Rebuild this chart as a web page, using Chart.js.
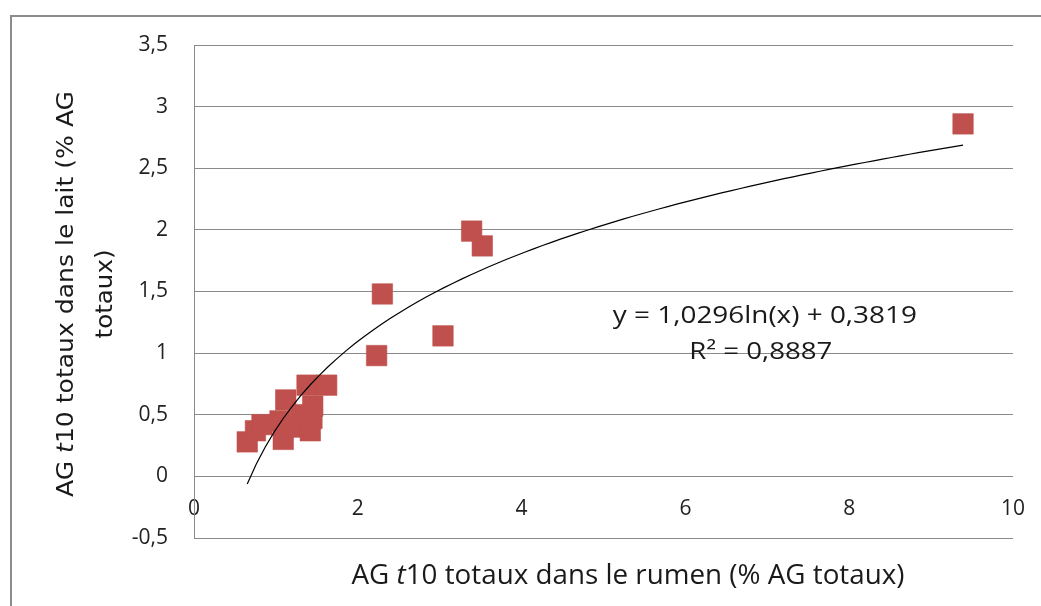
<!DOCTYPE html>
<html>
<head>
<meta charset="utf-8">
<script src="https://cdn.jsdelivr.net/npm/chart.js@4"></script>
<style>
  body { margin: 0; background: #fff; }
  #wrap { width: 1041px; height: 606px; position: relative; }
</style>
</head>
<body>
<div id="wrap"><canvas id="myChart"></canvas></div>
<script>
// data
const rumenX = [0.65, 0.75, 0.83, 1.05, 1.09, 1.12, 1.22, 1.30, 1.42, 1.44, 1.45, 1.38, 1.62, 2.23, 2.30, 3.04, 3.39, 3.52, 9.39];
const laitY  = [0.28, 0.37, 0.42, 0.45, 0.30, 0.62, 0.40, 0.50, 0.37, 0.47, 0.57, 0.74, 0.74, 0.98, 1.48, 1.14, 1.99, 1.87, 2.86];

// log trendline as printed on the chart
const trendA = 1.0296;
const trendB = 0.3819;
const trendR2 = '0,8887';

const yTicks = [-0.5, 0, 0.5, 1, 1.5, 2, 2.5, 3, 3.5];
const xTicks = [0, 2, 4, 6, 8, 10];

const fr = v => String(v).replace('.', ',');

// trendline points across the data range
const xMin = Math.min(...rumenX), xMax = Math.max(...rumenX);
const trend = [];
for (let i = 0; i <= 80; i++) {
  const x = xMin + (xMax - xMin) * i / 80;
  trend.push({ x: x, y: trendA * Math.log(x) + trendB });
}

const points = rumenX.map((x, i) => ({ x: x, y: laitY[i] }));

// draw a line of text (parts can be italic) stretched to a given width
function drawRich(ctx, parts, size, family, cx, cy, targetW, angle) {
  ctx.save();
  ctx.translate(cx, cy);
  ctx.rotate(angle || 0);
  const widths = parts.map(p => {
    ctx.font = (p.i ? 'italic ' : '') + size + 'px ' + family;
    return ctx.measureText(p.t).width;
  });
  const total = widths.reduce((a, b) => a + b, 0);
  ctx.scale(targetW / total, 1);
  ctx.textBaseline = 'middle';
  ctx.textAlign = 'left';
  let x = -total / 2;
  parts.forEach((p, k) => {
    ctx.font = (p.i ? 'italic ' : '') + size + 'px ' + family;
    ctx.fillText(p.t, x, 0);
    x += widths[k];
  });
  ctx.restore();
}

const decor = {
  id: 'decor',
  beforeDraw(chart) {
    const ctx = chart.ctx;
    ctx.save();
    ctx.strokeStyle = '#8c8c8c';
    ctx.lineWidth = 2;
    ctx.beginPath();
    ctx.moveTo(11, 606);
    ctx.lineTo(11, 16);
    ctx.lineTo(1041, 16);
    ctx.stroke();
    ctx.restore();
  },
  afterDraw(chart) {
    const ctx = chart.ctx;
    const sx = chart.scales.x, sy = chart.scales.y;
    ctx.save();
    ctx.fillStyle = '#1a1a1a';
    // axis titles
    drawRich(ctx, [{t: 'AG '}, {t: 't', i: true}, {t: '10 totaux dans le rumen (% AG totaux)'}],
      27, 'Open Sans', 628, 576, 553, 0);
    drawRich(ctx, [{t: 'AG '}, {t: 't', i: true}, {t: '10 totaux dans le lait (% AG'}],
      23, 'DejaVu Sans', 67, 294, 406, -Math.PI / 2);
    drawRich(ctx, [{t: 'totaux)'}],
      23, 'DejaVu Sans', 106, 294, 89, -Math.PI / 2);
    // trendline equation
    const ex = sx.getPixelForValue(6.97);
    drawRich(ctx, [{t: 'y = ' + fr(trendA) + 'ln(x) + ' + fr(trendB)}],
      24, 'Open Sans', ex, sy.getPixelForValue(1.30), 304, 0);
    drawRich(ctx, [{t: 'R² = ' + trendR2}],
      24, 'Open Sans', ex - 4, sy.getPixelForValue(1.01), 143, 0);
    ctx.restore();
  }
};

const ctx = document.getElementById('myChart').getContext('2d');
const myChart = new Chart(ctx, {
  type: 'scatter',
  data: {
    datasets: [{
      label: 'points',
      data: points,
      pointStyle: 'rect',
      pointRadius: 14.5,
      pointHoverRadius: 14.5,
      backgroundColor: '#C0504D',
      borderColor: 'rgba(192,80,77,0.55)',
      borderWidth: 1,
      order: 2
    }, {
      label: 'trend',
      type: 'line',
      data: trend,
      borderColor: '#000',
      borderWidth: 1.2,
      pointRadius: 0,
      fill: false,
      tension: 0,
      order: 1
    }]
  },
  options: {
    responsive: true,
    maintainAspectRatio: false,
    animation: false,
    layout: { padding: { left: 0, top: 45, right: 28, bottom: 68 } },
    plugins: {
      legend: { display: false },
      tooltip: { enabled: false }
    },
    scales: {
      x: {
        type: 'linear',
        position: { y: 0 },
        min: 0,
        max: 10,
        afterBuildTicks: s => { s.ticks = xTicks.map(v => ({ value: v })); },
        afterFit: s => { s.paddingLeft = 0; s.paddingRight = 0; },
        grid: { display: false, drawTicks: false },
        border: { display: false },
        ticks: {
          padding: 20,
          color: '#222',
          font: { family: 'Open Sans', size: 21 },
          callback: v => fr(v)
        }
      },
      y: {
        type: 'linear',
        min: -0.5,
        max: 3.5,
        afterBuildTicks: s => { s.ticks = yTicks.map(v => ({ value: v })); },
        afterFit: s => { s.width = 194; },
        grid: { color: '#8a8a8a', lineWidth: 1, drawTicks: false },
        border: { display: true, color: '#8a8a8a', width: 1 },
        ticks: {
          padding: 26,
          color: '#222',
          font: { family: 'Open Sans', size: 21 },
          callback: v => fr(v)
        }
      }
    }
  },
  plugins: [decor]
});
</script>
</body>
</html>
